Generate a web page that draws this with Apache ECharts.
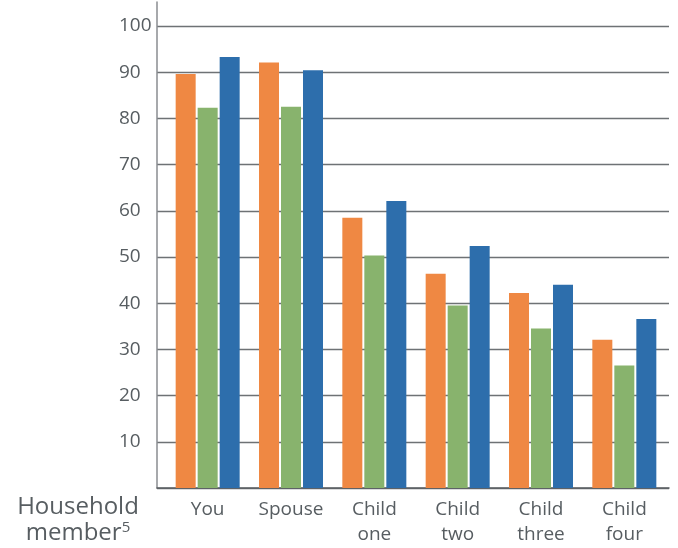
<!DOCTYPE html>
<html>
<head>
<meta charset="utf-8">
<script src="https://cdn.jsdelivr.net/npm/echarts@6/dist/echarts.min.js"></script>
<style>html,body{margin:0;padding:0;background:#fff}#c{width:678px;height:548px}</style>
</head>
<body>
<div id="c"></div>
<script>
var categories = ['You', 'Spouse', 'Child\none', 'Child\ntwo', 'Child\nthree', 'Child\nfour'];
var seriesOrange = [89.6, 92.1, 58.5, 46.4, 42.2, 32.1];
var seriesGreen = [82.3, 82.5, 50.3, 39.5, 34.5, 26.5];
var seriesBlue = [93.3, 90.4, 62.1, 52.4, 44.0, 36.6];
var yTicks = [0, 100, 10];

var font = '"Open Sans", "Noto Sans", sans-serif';
var txt = '#575d61';
var chart = echarts.init(document.getElementById('c'));
chart.setOption({
  animation: false,
  title: {
    text: 'Household\nmember{sup|5}',
    left: 73, top: 489, textAlign: 'center',
    textStyle: {
      fontFamily: font, fontSize: 24, fontWeight: 'normal', color: txt, lineHeight: 26,
      rich: { sup: { fontFamily: font, fontSize: 15, color: txt, verticalAlign: 'top', lineHeight: 26, padding: [0, 0, 10, 0] } }
    }
  },
  grid: [
    { left: 157, top: 2, width: 512, height: 486 },
    { left: 157, top: 26, width: 512, height: 462 },
    { left: 166, top: 26, width: 500, height: 462 }
  ],
  xAxis: [
    { gridIndex: 0, type: 'value', min: 0, max: 1, axisLine: { show: true, lineStyle: { color: '#5a5e61', width: 1.5 } }, axisTick: { show: false }, axisLabel: { show: false }, splitLine: { show: false } },
    { gridIndex: 1, type: 'value', min: 0, max: 1, show: false },
    { gridIndex: 2, type: 'category', data: categories,
      axisLine: { show: false }, axisTick: { show: false },
      axisLabel: { interval: 0, fontFamily: font, fontSize: 19, color: txt, lineHeight: 25, margin: 9 } }
  ],
  yAxis: [
    { gridIndex: 0, type: 'value', min: 0, max: 105, axisLine: { show: true, lineStyle: { color: '#8a8d90', width: 1.5 } }, axisTick: { show: false }, axisLabel: { show: false }, splitLine: { show: false } },
    { gridIndex: 1, type: 'value', min: yTicks[0], max: yTicks[1], interval: yTicks[2],
      axisLine: { show: false }, axisTick: { show: false },
      axisLabel: { fontFamily: font, fontSize: 19, color: txt, align: 'left', margin: 38,
        formatter: function (v) { return v === 0 ? '' : String(v); } },
      splitLine: { show: true, lineStyle: { color: '#6e7275', width: 1.3 } } },
    { gridIndex: 2, type: 'value', min: yTicks[0], max: yTicks[1], show: false }
  ],
  series: [
    { type: 'bar', xAxisIndex: 2, yAxisIndex: 2, data: seriesOrange, barWidth: 20, barGap: '10%', itemStyle: { color: '#EF8843' } },
    { type: 'bar', xAxisIndex: 2, yAxisIndex: 2, data: seriesGreen, barWidth: 20, barGap: '10%', itemStyle: { color: '#88B36D' } },
    { type: 'bar', xAxisIndex: 2, yAxisIndex: 2, data: seriesBlue, barWidth: 20, barGap: '10%', itemStyle: { color: '#2D6EAC' } }
  ]
});
</script>
</body>
</html>
